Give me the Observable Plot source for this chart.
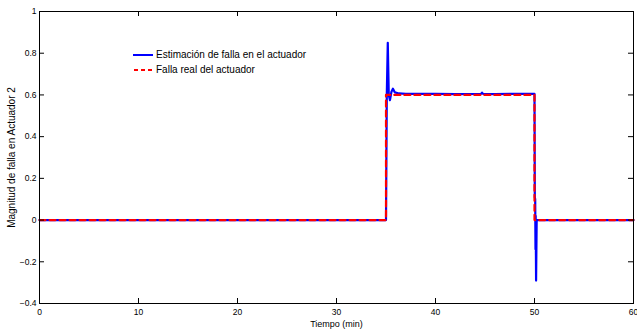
<!DOCTYPE html>
<html>
<head>
<meta charset="utf-8">
<script src="https://cdn.jsdelivr.net/npm/d3@7"></script>
<script src="https://cdn.jsdelivr.net/npm/@observablehq/plot@0.6"></script>
<style>
  html, body { margin: 0; padding: 0; background: #fff; }
  #wrap { position: relative; width: 637px; height: 329px; font-family: "Liberation Sans", Arial, sans-serif; }
  #legend { position: absolute; left: 133px; top: 47px; font-size: 10px; color: #000; line-height: 15px; }
  #legend .row { display: flex; align-items: center; height: 15px; }
  #legend svg { margin-right: 3px; }
  g[aria-label$="tick label"] { font-size: 8.5px; }
  g[aria-label="y-axis label"] { font-size: 10px; }
  g[aria-label="x-axis label"] { font-size: 9px; }
</style>
</head>
<body>
<div id="wrap">
  <div id="legend">
    <div class="row"><svg width="20" height="6"><line x1="0" y1="3" x2="20" y2="3" stroke="#0000ff" stroke-width="2"/></svg><span>Estimación de falla en el actuador</span></div>
    <div class="row"><svg width="20" height="6"><line x1="1" y1="3" x2="20" y2="3" stroke="#ff0000" stroke-width="2" stroke-dasharray="4,3"/></svg><span>Falla real del actuador</span></div>
  </div>
</div>
<script>
// Estimated fault (blue)
const tEst = [0, 35.0, 35.08, 35.18, 35.28, 35.4, 35.55, 35.7, 35.9, 36.3, 37, 40, 42, 44.6, 44.7, 44.8, 46, 48, 50.0, 50.03, 50.07, 50.1, 50.12, 50.16, 50.22, 60];
const vEst = [0, 0, 0.6, 0.85, 0.6, 0.575, 0.615, 0.63, 0.612, 0.607, 0.605, 0.605, 0.604, 0.605, 0.611, 0.605, 0.604, 0.605, 0.605, 0.11, 0.1, -0.14, 0.02, -0.29, 0, 0];
// Real fault (red dashed)
const tReal = [0, 35, 35, 50, 50, 60];
const vReal = [0, 0, 0.6, 0.6, 0, 0];
// Ticks
const xTicks = [0, 10, 20, 30, 40, 50, 60];
const yTicks = [-0.4, -0.2, 0, 0.2, 0.4, 0.6, 0.8, 1];
const xLabel = "Tiempo (min)";
const yLabel = "Magnitud de falla en Actuador 2";

const est = tEst.map((t, i) => ({t, v: vEst[i]}));
const real = tReal.map((t, i) => ({t, v: vReal[i]}));

const W = 637, H = 329, mL = 39, mR = 4, mT = 11, mB = 26;
const fw = W - mL - mR, fh = H - mT - mB, tl = 5;
const fmt = d => d === 0 ? "0" : String(d).replace("-", "\u2212");

const chart = Plot.plot({
  width: W, height: H,
  marginLeft: mL, marginRight: mR, marginTop: mT, marginBottom: mB,
  style: {fontFamily: "'Liberation Sans', Arial, sans-serif", background: "#fff", overflow: "visible"},
  x: {domain: [0, 60]},
  y: {domain: [-0.4, 1]},
  marks: [
    Plot.line(est, {x: "t", y: "v", stroke: "#0000ff", strokeWidth: 2.2}),
    Plot.line(real, {x: "t", y: "v", stroke: "#ff0000", strokeWidth: 2.2, strokeDasharray: "6,4"}),
    Plot.frame({stroke: "#000", strokeWidth: 1}),
    Plot.tickX(xTicks, {x: d => d, insetTop: fh - tl, stroke: "#000"}),
    Plot.tickX(xTicks, {x: d => d, insetBottom: fh - tl, stroke: "#000"}),
    Plot.tickY(yTicks, {y: d => d, insetRight: fw - tl, stroke: "#000"}),
    Plot.tickY(yTicks, {y: d => d, insetLeft: fw - tl, stroke: "#000"}),
    Plot.axisX(xTicks, {tickSize: 0, tickPadding: 5, tickFormat: fmt,
      label: xLabel, labelAnchor: "center", labelArrow: "none", labelOffset: 23}),
    Plot.axisY(yTicks, {tickSize: 0, tickPadding: 3, tickFormat: fmt,
      label: yLabel, labelAnchor: "center", labelArrow: "none", labelOffset: 32})
  ]
});
document.getElementById("wrap").prepend(chart);
</script>
</body>
</html>
